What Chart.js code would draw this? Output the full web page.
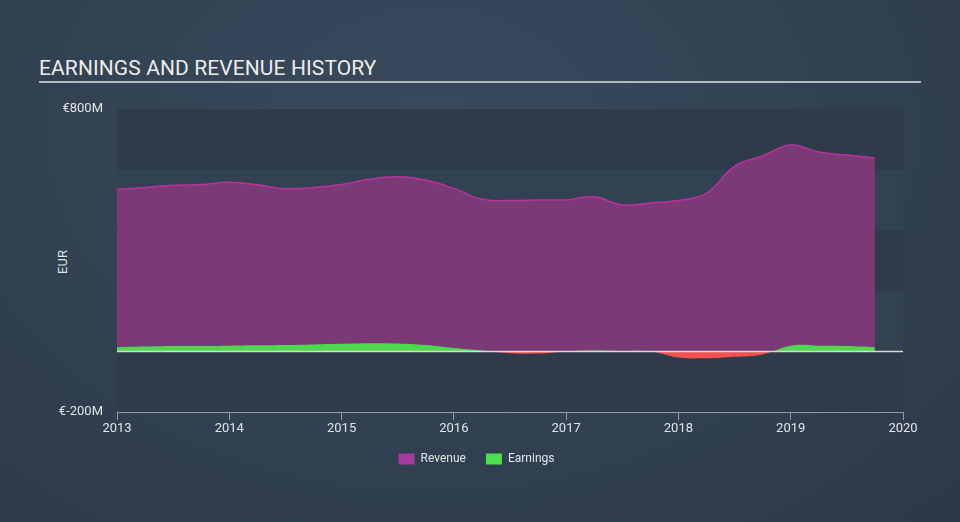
<!DOCTYPE html>
<html>
<head>
<meta charset="utf-8">
<script src="https://cdn.jsdelivr.net/npm/chart.js@4.4.0/dist/chart.umd.min.js"></script>
<style>
  html, body { margin: 0; padding: 0; }
  body {
    width: 960px; height: 522px; overflow: hidden; position: relative;
    background: radial-gradient(ellipse at 45% 25%, #3a4a5c 0%, #334354 45%, #2c3947 100%);
    font-family: Roboto, "Noto Sans", sans-serif;
  }
  #title {
    position: absolute; left: 39px; top: 56px;
    color: #ececec; font-size: 21px; letter-spacing: 0.1px;
  }
  #rule {
    position: absolute; left: 39px; top: 81px; width: 882px; height: 2px;
    background: #b3b9c0;
  }
  #ytitle {
    position: absolute; left: 62px; top: 262px;
    transform: translate(-50%, -50%) rotate(-90deg);
    color: #dfe3e8; font-size: 13px;
  }
  #chart { position: absolute; left: 0; top: 0; }
</style>
</head>
<body>
<div id="title">EARNINGS AND REVENUE HISTORY</div>
<div id="rule"></div>
<div id="ytitle">EUR</div>
<canvas id="chart" width="960" height="522"></canvas>
<script>
// quarterly points, 2013.00 .. 2019.75
var periods = [
    2013, 2013.25, 2013.5, 2013.75, 2014, 2014.25, 2014.5, 2014.75,
    2015, 2015.25, 2015.5, 2015.75, 2016, 2016.25, 2016.5, 2016.75,
    2017, 2017.25, 2017.5, 2017.75, 2018, 2018.25, 2018.5, 2018.75,
    2019, 2019.25, 2019.5, 2019.75
];
// EUR millions
var revenue = [
    535, 541, 548, 551, 558, 550, 537, 541,
    551, 568, 576, 565, 538, 502, 498, 500,
    500, 510, 483, 490, 498, 522, 611, 645,
    681, 658, 648, 638
];
var earnings = [
    14, 16, 18, 18, 19, 20, 21, 23,
    25, 27, 26, 21, 11, 3, -6, -7,
    0, 3, 1, 0, -20, -23, -18, -10,
    19, 19, 18, 14
];
var yearTicks = [2013, 2014, 2015, 2016, 2017, 2018, 2019, 2020];
var yLabels = { "800": "€800M", "-200": "€-200M" };

function toPoints(values) {
    return values.map(function (v, i) { return { x: periods[i], y: v }; });
}

var textColor = "#dfe3e8";

// alternating bands behind the plot + zero line on top
var plotDecor = {
    id: "plotDecor",
    beforeDatasetsDraw: function (chart) {
        var ctx = chart.ctx, area = chart.chartArea, y = chart.scales.y;
        ctx.save();
        var n = 0;
        for (var v = -200; v < 800; v += 200, n++) {
            var top = y.getPixelForValue(v + 200), bottom = y.getPixelForValue(v);
            ctx.fillStyle = (n % 2 === 0) ? "#2e3b4a" : "#334252";
            ctx.fillRect(area.left, top, area.right - area.left, bottom - top);
        }
        ctx.restore();
    },
    afterDatasetsDraw: function (chart) {
        var ctx = chart.ctx, area = chart.chartArea;
        var zero = Math.round(chart.scales.y.getPixelForValue(0)) + 0.5;
        ctx.save();
        ctx.strokeStyle = "#ddd8cc";
        ctx.lineWidth = 1.5;
        ctx.beginPath();
        ctx.moveTo(area.left, zero);
        ctx.lineTo(area.right, zero);
        ctx.stroke();
        ctx.restore();
    }
};

var swatches = ["#a43b9c", "#4de04d"];

new Chart(document.getElementById("chart"), {
    type: "line",
    data: {
        datasets: [{
            label: "Revenue",
            data: toPoints(revenue),
            borderColor: "#b8339f",
            borderWidth: 1.5,
            backgroundColor: "#7b3a76",
            fill: "origin",
            pointRadius: 0,
            tension: 0.4,
            order: 2
        }, {
            label: "Earnings",
            data: toPoints(earnings),
            borderWidth: 0,
            borderColor: "rgba(0,0,0,0)",
            backgroundColor: "#4fd84f",
            fill: { target: "origin", above: "#4fd84f", below: "#f05252" },
            pointRadius: 0,
            tension: 0.4,
            order: 1
        }]
    },
    options: {
        responsive: false,
        animation: false,
        layout: { padding: { top: 109, right: 57, bottom: 47, left: 50 } },
        scales: {
            x: {
                type: "linear",
                min: 2013,
                max: 2020,
                afterBuildTicks: function (scale) {
                    scale.ticks = yearTicks.map(function (v) { return { value: v }; });
                },
                ticks: {
                    color: textColor,
                    font: { family: "Roboto", size: 13 },
                    padding: 1,
                    maxRotation: 0,
                    callback: function (v) { return String(v); }
                },
                grid: { drawOnChartArea: false, color: "#8d9bab", tickLength: 8 },
                border: { color: "#8d9bab" },
                afterFit: function (scale) { scale.height = 21; }
            },
            y: {
                min: -200,
                max: 800,
                ticks: {
                    stepSize: 200,
                    color: textColor,
                    font: { family: "Roboto", size: 13 },
                    padding: 6,
                    callback: function (v) { return yLabels[String(v)] || ""; }
                },
                grid: { display: false },
                border: { display: false },
                afterFit: function (scale) { scale.width = 67; }
            }
        },
        plugins: {
            legend: {
                position: "bottom",
                labels: {
                    color: textColor,
                    font: { family: "Roboto", size: 12 },
                    boxWidth: 16,
                    boxHeight: 11,
                    padding: 20,
                    sort: function (a, b) { return a.datasetIndex - b.datasetIndex; },
                    generateLabels: function (chart) {
                        return chart.data.datasets.map(function (ds, i) {
                            return {
                                text: ds.label,
                                fillStyle: swatches[i],
                                strokeStyle: swatches[i],
                                lineWidth: 0,
                                fontColor: textColor,
                                datasetIndex: i,
                                hidden: false
                            };
                        });
                    }
                }
            },
            tooltip: { enabled: false }
        }
    },
    plugins: [plotDecor]
});
</script>
</body>
</html>
